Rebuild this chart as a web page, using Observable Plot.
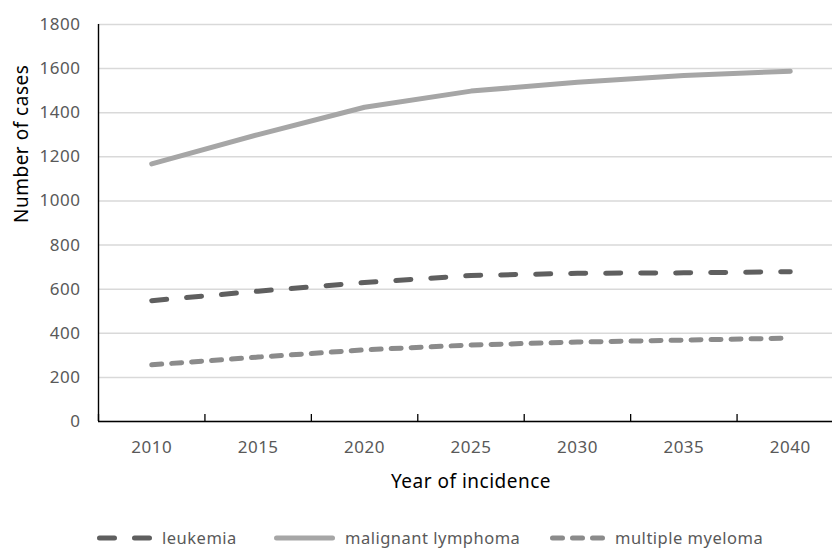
<!DOCTYPE html>
<html>
<head>
<meta charset="utf-8">
<script src="https://cdn.jsdelivr.net/npm/d3@7"></script>
<script src="https://cdn.jsdelivr.net/npm/@observablehq/plot@0.6"></script>
<style>
  html, body { margin: 0; padding: 0; background: #fff; font-family: "Noto Sans", sans-serif; overflow: hidden; }
  #chart svg { display: block; }
  .legend { position: relative; width: 832px; height: 38px; }
  .legend .item { position: absolute; top: 19px; height: 18px; line-height: 18px; display: flex; align-items: center; font-size: 16.5px; color: #595959; letter-spacing: 0.5px; white-space: nowrap; }
  .legend .item svg { display: block; margin-right: 10px; }
</style>
</head>
<body>
<div id="chart"></div>
<div class="legend" id="legend"></div>
<script>
const years = [2010, 2015, 2020, 2025, 2030, 2035, 2040];
const leukemia = [548, 591, 630, 662, 672, 674, 679];
const lymphoma = [1168, 1301, 1425, 1498, 1538, 1569, 1588];
const myeloma = [257, 292, 325, 347, 360, 369, 378];
const yTicks = [0, 200, 400, 600, 800, 1000, 1200, 1400, 1600, 1800];
const seriesNames = ["leukemia", "malignant lymphoma", "multiple myeloma"];

const seriesStyle = {
  "leukemia": {stroke: "#5f5f5f", dash: "15 20", values: leukemia},
  "malignant lymphoma": {stroke: "#a6a6a6", dash: null, values: lymphoma},
  "multiple myeloma": {stroke: "#8b8b8b", dash: "10 10", values: myeloma}
};

const rows = seriesNames.map(name => years.map((year, i) => ({series: name, year, value: seriesStyle[name].values[i]})));
const step = years[1] - years[0];
const boundaries = years.map(y => y - step / 2).concat([years[years.length - 1] + step / 2]);
const xDomain = [boundaries[0], boundaries[boundaries.length - 1]];

const chart = Plot.plot({
  width: 832,
  height: 510,
  marginTop: 24,
  marginBottom: 89,
  marginLeft: 98,
  marginRight: 0,
  style: {fontFamily: "Noto Sans", background: "white", letterSpacing: "0.5px"},
  x: {type: "linear", domain: xDomain, range: [98, 843]},
  y: {domain: [0, 1800]},
  marks: [
    Plot.gridY(yTicks, {stroke: "#d9d9d9", strokeOpacity: 1, strokeWidth: 1.5}),
    Plot.axisY(yTicks, {tickSize: 0, tickPadding: 18, fill: "#595959", fontSize: 17, label: null, tickFormat: d => String(d)}),
    Plot.axisX(years, {tickSize: 0, tickPadding: 19, fill: "#595959", fontSize: 17, label: null, tickFormat: d => String(d)}),
    Plot.ruleX(boundaries, {y1: 0, y2: 0, insetTop: -7, stroke: "black", strokeWidth: 1.3}),
    Plot.ruleY([0], {stroke: "black", strokeWidth: 1.6}),
    Plot.ruleX([xDomain[0]], {y1: 0, y2: 1800, stroke: "black", strokeWidth: 1.4}),
    ...rows.map(data => {
      const s = seriesStyle[data[0].series];
      return Plot.line(data, {x: "year", y: "value", stroke: s.stroke, strokeWidth: 5, strokeLinecap: "round", strokeLinejoin: "round", strokeDasharray: s.dash});
    }),
    Plot.text(["Year of incidence"], {frameAnchor: "bottom", dx: 5.5, dy: 66, fill: "black", fontSize: 19, letterSpacing: "0px"}),
    Plot.text(["Number of cases"], {frameAnchor: "left", dx: -77, rotate: -90, fill: "black", fontSize: 19})
  ]
});
document.getElementById("chart").appendChild(chart);

// legend
const legendPos = {"leukemia": [97, 55], "malignant lymphoma": [274, 61], "multiple myeloma": [550, 55]};
const legend = d3.select("#legend");
seriesNames.forEach(name => {
  const s = seriesStyle[name];
  const [left, w] = legendPos[name];
  const item = legend.append("div").attr("class", "item").style("left", left + "px");
  const svg = item.append("svg").attr("width", w).attr("height", 10);
  svg.append("line")
    .attr("x1", 2.5).attr("x2", w - 2.5).attr("y1", 5).attr("y2", 5)
    .attr("stroke", s.stroke).attr("stroke-width", 5).attr("stroke-linecap", "round")
    .attr("stroke-dasharray", s.dash);
  item.append("span").text(name);
});
</script>
</body>
</html>
